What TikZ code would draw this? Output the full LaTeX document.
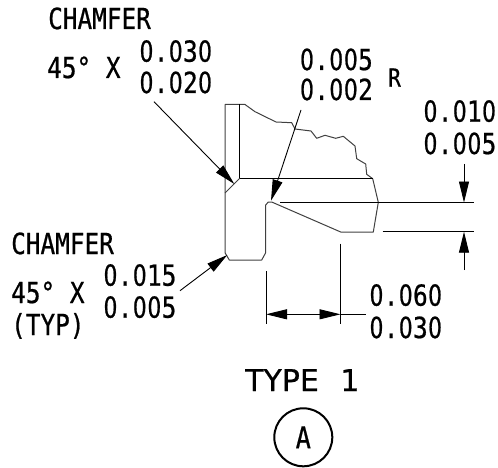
\documentclass[tikz,border=0pt]{standalone}
\usepackage{fontspec}
\setmainfont{DejaVu Sans Mono}[FakeStretch=0.84,FakeBold=0.7]
\newfontfamily\zerofont{DejaVu Sans}[FakeStretch=0.75,FakeBold=0.7]
\newfontfamily\typefont{DejaVu Sans}[FakeBold=0.5]
\usetikzlibrary{arrows.meta}
\newcommand{\zz}{\makebox[14.6pt]{\zerofont 0}}
\tikzset{
  lab/.style={inner sep=0pt,anchor=base west,font=\fontsize{29}{29}\selectfont},
  outline/.style={draw=black!75,line width=1pt,line join=round},
  thin line/.style={draw=black,line width=1pt},
  lead/.style={draw=black,line width=0.9pt,-{Triangle[length=21pt,width=10pt]}},
}
\begin{document}
\begin{tikzpicture}[x=1pt,y=-1pt]
\useasboundingbox (0,0) rectangle (498,468);
% part
\draw[outline] (245,104.5) -- (225,104.5) -- (225,252.7) -- (229.3,260) -- (261.7,260) -- (265.7,252.7) -- (265.7,205) -- (268.3,202) -- (271.7,202) -- (340.7,232) -- (373.3,232) -- (378.3,202.3) -- (372.7,178.7);
\draw[outline] (245,104.5) -- (255,111.7) -- (276,122) -- (291.7,122.7) -- (295,129) -- (311,131) -- (316.7,138.3) -- (325,135.3) -- (335.7,138.3) -- (343.3,136.3) -- (355,146) -- (356.7,158.7) -- (365.7,164) -- (366.7,174.3) -- (372.7,178.7);
\draw[thin line] (239.5,104.5) -- (239.5,178.5) -- (372.7,178.5);
\draw[outline] (239.5,178.5) -- (225,193);
% extension lines
\coordinate (e1a) at (280,202.5); \coordinate (e1b) at (474,202.5);
\coordinate (e2a) at (382.7,231.7); \coordinate (e2b) at (474,231.7);
\coordinate (e3a) at (340.5,243.5); \coordinate (e3b) at (340.5,324);
\coordinate (e4a) at (266,271); \coordinate (e4b) at (266,324);
\draw[thin line] (e1a) -- (e1b); \draw[thin line] (e2a) -- (e2b);
\draw[thin line] (e3a) -- (e3b); \draw[thin line] (e4a) -- (e4b);
% dimensions
\coordinate (d1a) at (464,164); \coordinate (d1b) at (464,202.5);
\coordinate (d2a) at (464,270); \coordinate (d2b) at (464,231.7);
\coordinate (d3m) at (303.5,314.3); \coordinate (d3l) at (266,314.3); \coordinate (d3r) at (340.5,314.3); \coordinate (d3e) at (366,314.3);
\draw[lead] (d1a) -- (d1b);
\draw[lead] (d2a) -- (d2b);
\draw[lead] (d3m) -- (d3l);
\draw[lead] (d3m) -- (d3r);
\draw[thin line] (d3r) -- (d3e);
% leaders
\coordinate (l1a) at (154,101.7); \coordinate (l1b) at (234.3,184);
\coordinate (l2a) at (301,110); \coordinate (l2b) at (271,200.7);
\coordinate (l3a) at (180,290.7); \coordinate (l3b) at (227.3,255);
\draw[lead] (l1a) -- (l1b);
\draw[lead] (l2a) -- (l2b);
\draw[lead] (l3a) -- (l3b);
% labels
\node[lab] (t1) at (48,29) {CHAMFER};
\node[lab] (t2) at (47,78) {45° X};
\node[lab] (t3) at (139,61.7) {\zz.\zz3\zz};
\node[lab] (t4) at (139,93) {\zz.\zz2\zz};
\node[lab] (t5) at (299.5,70) {\zz.\zz\zz5};
\node[lab] (t6) at (299.5,100) {\zz.\zz\zz2};
\node[lab,font=\fontsize{25}{25}\selectfont] (t7) at (388,86.7) {R};
\node[lab] (t8) at (423,121.7) {\zz.\zz1\zz};
\node[lab] (t9) at (423,154) {\zz.\zz\zz5};
\node[lab] (t10) at (11,254) {CHAMFER};
\node[lab] (t11) at (11,303) {45° X};
\node[lab] (t12) at (11,335) {(TYP)};
\node[lab] (t13) at (103,285.7) {\zz.\zz15};
\node[lab] (t14) at (103,317.7) {\zz.\zz\zz5};
\node[lab] (t15) at (369,305.7) {\zz.\zz6\zz};
\node[lab] (t16) at (369,338) {\zz.\zz3\zz};
\node[lab,font=\fontsize{30}{30}\typefont] (t17) at (245,391) {TYPE\hspace{12pt} 1};
\node[draw=black,line width=2pt,circle,minimum size=58pt,inner sep=0pt,font=\fontsize{30}{30}\selectfont] (c) at (303.3,437.3) {A};
\end{tikzpicture}
\end{document}
